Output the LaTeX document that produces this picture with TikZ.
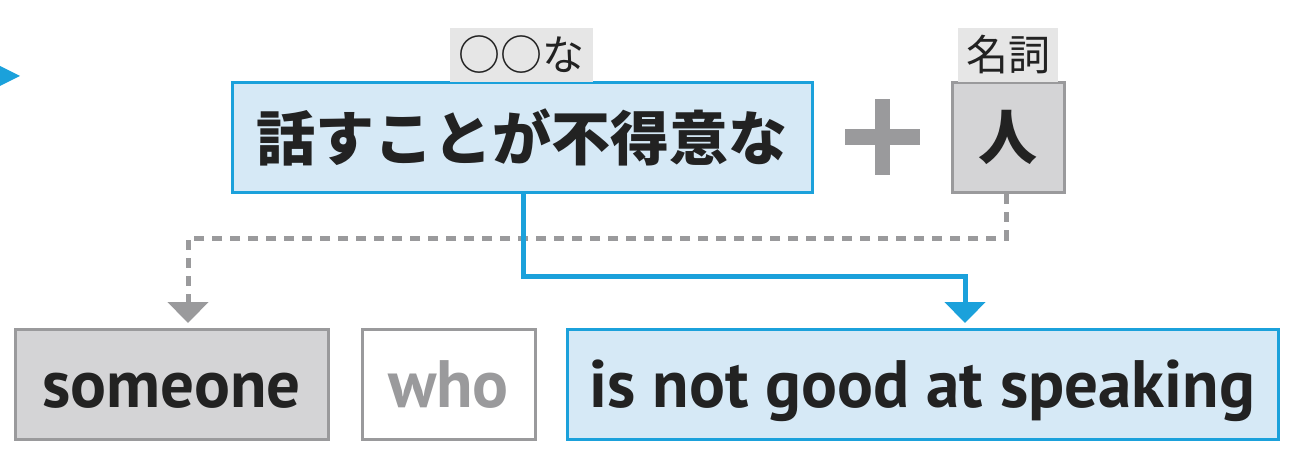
\documentclass[tikz,border=0pt]{standalone}
\usepackage{fontspec}
\newfontfamily\jp{Noto Sans CJK JP}
\newfontfamily\en{PT Sans}
\usetikzlibrary{arrows.meta}
\definecolor{cblue}{HTML}{1BA1DB}
\definecolor{cbluefill}{HTML}{D6E9F6}
\definecolor{cgray}{HTML}{9A9A9C}
\definecolor{cgrayfill}{HTML}{D4D4D6}
\definecolor{clabel}{HTML}{E6E6E6}
\definecolor{ctext}{HTML}{222222}
\tikzset{
  bluebox/.style={draw=cblue, fill=cbluefill, line width=1.5pt, inner sep=0pt},
  graybox/.style={draw=cgray, fill=cgrayfill, line width=1.5pt, inner sep=0pt},
  whitebox/.style={draw=cgray, fill=white, line width=1.5pt, inner sep=0pt},
  labelbox/.style={fill=clabel, inner sep=0pt, font=\jp\fontsize{21}{22}\selectfont, text=ctext},
  bigjp/.style={font=\jp\bfseries\fontsize{29.5}{30}\selectfont, text=ctext},
  bigen/.style={font=\en\bfseries\fontsize{33.5}{36}\selectfont, text height=27pt, text depth=4pt},
  blueline/.style={draw=cblue, line width=2.5pt, -{Triangle[width=20pt,length=10.5pt]}},
  grayline/.style={draw=cgray, line width=2.5pt, dash pattern=on 5pt off 4pt, -{Triangle[width=20pt,length=10.5pt]}},
}
\begin{document}
\begin{tikzpicture}[x=0.5pt,y=-0.5pt]
\useasboundingbox (0,0) rectangle (1300,460);
\begin{scope}
\clip (0,0) rectangle (1300,460);
\fill[cblue] (-6,63) -- (20,76) -- (-6,89) -- cycle;
\end{scope}
% top row
\node[bluebox, bigjp, minimum width=290pt, minimum height=54.5pt] (main) at (522,137.5) {話すことが不得意な};
\node[labelbox, minimum width=71.5pt, minimum height=27pt] (lab1) at (521.5,55) {○○な};
\node[graybox, bigjp, minimum width=56pt, minimum height=55pt] (hito) at (1008,137.5) {人};
\node[labelbox, minimum width=50pt, minimum height=27pt] (lab2) at (1008,55) {名詞};
% plus
\node[fill=cgray, minimum width=37.5pt, minimum height=7.5pt, inner sep=0pt] (plush) at (882,137) {};
\node[fill=cgray, minimum width=7.5pt, minimum height=37.5pt, inner sep=0pt] (plusv) at (882,137) {};
% bottom row
\node[graybox, bigen, text=ctext, minimum width=156.5pt, minimum height=55pt] (someone) at (171.5,384) {someone};
\node[whitebox, bigen, text=cgray, minimum width=86.5pt, minimum height=55pt] (who) at (448.5,384) {who};
\node[bluebox, bigen, text=ctext, minimum width=355.5pt, minimum height=55pt] (speak) at (922.5,384) {is not good at speaking};
% connectors
\coordinate (g1) at (1006,238);
\coordinate (g2) at (188,238);
\coordinate (gend) at (188,323);
\draw[grayline] (hito.south -| g1) -- (g1) -- (g2) -- (gend);
\coordinate (b1) at (523,276);
\coordinate (b2) at (965,276);
\coordinate (bend) at (965,323);
\draw[blueline] (main.south -| b1) -- (b1) -- (b2) -- (bend);
\end{tikzpicture}
\end{document}
